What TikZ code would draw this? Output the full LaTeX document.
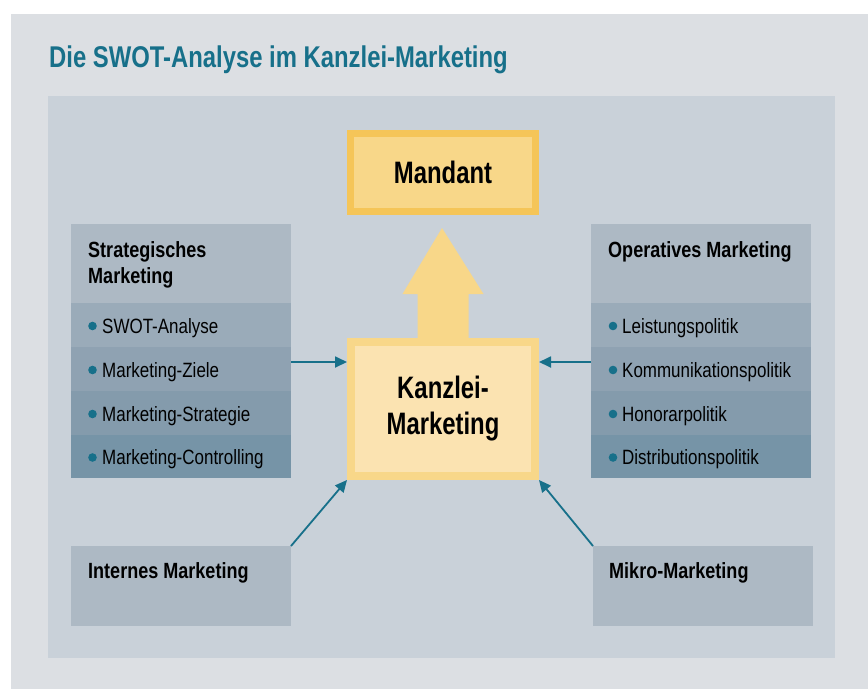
\documentclass[tikz,border=0pt]{standalone}
\usepackage{fontspec}
\setmainfont{Liberation Sans}[FakeStretch=0.82]
\newfontfamily\narrowfam{Liberation Sans}[FakeStretch=0.77]
\newfontfamily\titlefam{Liberation Sans}[FakeStretch=0.795]
\usetikzlibrary{arrows.meta,calc}

\definecolor{pagebg}{HTML}{DCDFE3}
\definecolor{panelbg}{HTML}{C9D1D9}
\definecolor{headbg}{HTML}{ADB9C4}
\definecolor{rowA}{HTML}{9AABB9}
\definecolor{rowB}{HTML}{8FA2B2}
\definecolor{rowC}{HTML}{849BAC}
\definecolor{rowD}{HTML}{7694A7}
\definecolor{accent}{HTML}{17708A}
\definecolor{goldline}{HTML}{F5C558}
\definecolor{goldfill}{HTML}{F8D789}
\definecolor{creamfill}{HTML}{FBE3B1}

\newcommand{\titlefont}{\titlefam\fontsize{30}{34}\selectfont\bfseries}
\newcommand{\headfont}{\fontsize{22}{26}\selectfont\bfseries}
\newcommand{\itemfont}{\fontsize{20.7}{24}\selectfont}
\newcommand{\corefont}{\narrowfam\fontsize{31}{36}\selectfont\bfseries}

\begin{document}
\begin{tikzpicture}[x=1pt,y=-1pt,
  panel/.style={rectangle, inner sep=0pt, outer sep=0pt, anchor=north west,
    minimum width=220pt},
  head/.style={anchor=base west, inner sep=0pt, align=left, font=\headfont},
  item/.style={anchor=base west, inner sep=0pt, font=\itemfont},
  dot/.style={circle, fill=accent, inner sep=0pt, minimum size=8.6pt},
  conn/.style={draw=accent, line width=1.8pt,
    -{Triangle[length=12pt,width=11pt]}},
]
\useasboundingbox (0,0) rectangle (868,689);
\fill[white] (0,0) rectangle (868,689);
\fill[pagebg] (11,14) rectangle (868,689);
\fill[panelbg] (48,96) rectangle (835,658);

% title
\node[anchor=base west, inner sep=0pt, text=accent, font=\titlefont]
  (title) at (49,67) {Die SWOT-Analyse im Kanzlei-Marketing};

% strategic marketing block
\node[panel, fill=headbg, minimum height=79pt] (sh) at (71,224) {};
\node[panel, fill=rowA, minimum height=44pt] (s1) at (71,303) {};
\node[panel, fill=rowB, minimum height=44pt] (s2) at (71,347) {};
\node[panel, fill=rowC, minimum height=44pt] (s3) at (71,391) {};
\node[panel, fill=rowD, minimum height=43pt] (s4) at (71,435) {};
% the base of a two-line node sits on its last line
\node[head] (sht) at (88,283) {Strategisches\\Marketing};
\node[dot] (sd1) at (92.5,326) {};
\node[dot] (sd2) at (92.5,370) {};
\node[dot] (sd3) at (92.5,414) {};
\node[dot] (sd4) at (92.5,457.5) {};
\node[item] (st1) at (102,333) {SWOT-Analyse};
\node[item] (st2) at (102,377) {Marketing-Ziele};
\node[item] (st3) at (102,421) {Marketing-Strategie};
\node[item] (st4) at (102,464.5) {Marketing-Controlling};

% operative marketing block
\node[panel, fill=headbg, minimum height=79pt] (oh) at (591,224) {};
\node[panel, fill=rowA, minimum height=44pt] (o1) at (591,303) {};
\node[panel, fill=rowB, minimum height=44pt] (o2) at (591,347) {};
\node[panel, fill=rowC, minimum height=44pt] (o3) at (591,391) {};
\node[panel, fill=rowD, minimum height=43pt] (o4) at (591,435) {};
\node[head] (oht) at (608,257) {Operatives Marketing};
\node[dot] (od1) at (613,326) {};
\node[dot] (od2) at (613,370) {};
\node[dot] (od3) at (613,414) {};
\node[dot] (od4) at (613,457.5) {};
\node[item] (ot1) at (622,333) {Leistungspolitik};
\node[item] (ot2) at (622,377) {Kommunikationspolitik};
\node[item] (ot3) at (622,421) {Honorarpolitik};
\node[item] (ot4) at (622,464.5) {Distributionspolitik};

% lower blocks
\node[panel, fill=headbg, minimum height=80pt] (ib) at (71,546) {};
\node[head] (ibt) at (88,578) {Internes Marketing};
\node[panel, fill=headbg, minimum height=80pt] (mb) at (593,546) {};
\node[head] (mbt) at (609,578) {Mikro-Marketing};

% central blocks
\node[draw=goldline, fill=goldfill, line width=7pt, minimum width=185pt,
  minimum height=78pt, inner sep=0pt, font=\corefont]
  (mandant) at (443,172.5) {Mandant};
\node[draw=goldfill, fill=creamfill, line width=8pt, minimum width=184pt,
  minimum height=134pt, inner sep=0pt, align=center, font=\corefont]
  (kanzlei) at (443,409) {Kanzlei-\\Marketing};

% block arrow towards the client
\fill[goldfill]
  ($(kanzlei.north)+(-25.5,2)$) -- ($(kanzlei.north)+(-25.5,-44)$)
  -- ($(kanzlei.north)+(-40.5,-44)$) -- ($(mandant.south)+(-1,13)$)
  -- ($(kanzlei.north)+(40.5,-44)$) -- ($(kanzlei.north)+(25.5,-44)$)
  -- ($(kanzlei.north)+(25.5,2)$) -- cycle;

% connectors
\coordinate (lvl) at (0,362);
\draw[conn] (s2.east |- lvl) -- (kanzlei.west |- lvl);
\draw[conn] (o2.west |- lvl) -- (kanzlei.east |- lvl);
\draw[conn] (ib.north east) -- (kanzlei.south west);
\draw[conn] (mb.north west) -- (kanzlei.south east);
\end{tikzpicture}
\end{document}
